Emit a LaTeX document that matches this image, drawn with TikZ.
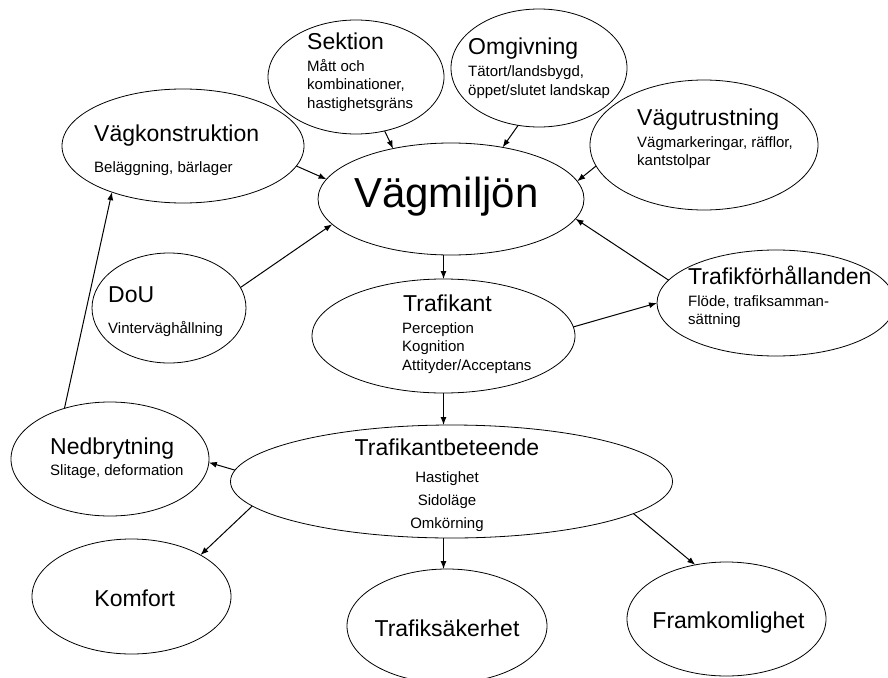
\documentclass[tikz,border=0pt]{standalone}
\usepackage{fontspec}
\setmainfont{Liberation Sans}
\usetikzlibrary{shapes.geometric,arrows.meta}
\newcommand{\mytabl}[1]{\begin{tabular}[t]{@{}l@{}}#1\end{tabular}}
\newcommand{\mytabc}[1]{\begin{tabular}[t]{@{}c@{}}#1\end{tabular}}
\begin{document}
\begin{tikzpicture}[x=1pt,y=-1pt,
  oval/.style={draw,ellipse,line width=0.8pt,inner sep=0pt,outer sep=0pt},
  arr/.style={-{Latex[length=8pt,width=6pt]},line width=1pt},
  ttl/.style={anchor=base west,inner sep=0pt,font=\fontsize{23}{27}\selectfont},
  ttlc/.style={anchor=base,inner sep=0pt,font=\fontsize{23}{27}\selectfont},
  sub/.style={anchor=base west,inner sep=0pt,font=\fontsize{15}{18.7}\selectfont},
  subc/.style={anchor=base,inner sep=0pt,font=\fontsize{15}{23}\selectfont},
]
\useasboundingbox (0,0) rectangle (888,677);
\clip (0,0) rectangle (888,677);

% ellipses
\node[oval,minimum width=266pt,minimum height=112pt] (vm) at (451,199) {};
\node[oval,minimum width=176pt,minimum height=114pt] (sek) at (356,77) {};
\node[oval,minimum width=176pt,minimum height=118pt] (omg) at (539,68) {};
\node[oval,minimum width=228pt,minimum height=130pt] (vu) at (704,145) {};
\node[oval,minimum width=242pt,minimum height=114pt] (vk) at (183,146) {};
\node[oval,minimum width=154pt,minimum height=110pt] (dou) at (169,308) {};
\node[oval,minimum width=263pt,minimum height=114pt] (tr) at (443.5,336) {};
\node[oval,minimum width=238pt,minimum height=106pt] (tf) at (776,303) {};
\node[oval,minimum width=442pt,minimum height=113pt] (tb) at (451.5,481.5) {};
\node[oval,minimum width=198pt,minimum height=114pt] (ned) at (110,459) {};
\node[oval,minimum width=199pt,minimum height=115pt] (kom) at (131.5,596.5) {};
\node[oval,minimum width=200pt,minimum height=114pt] (ts) at (447,626) {};
\node[oval,minimum width=199pt,minimum height=114pt] (fram) at (726.5,619) {};

% texts
\node[anchor=base west,inner sep=0pt,font=\fontsize{42}{48}\selectfont] (tvm) at (354,207) {Vägmiljön};
\node[ttl] (tsek) at (307,50) {Sektion};
\node[sub] (ssek) at (307,71) {\mytabl{Mått och\\kombinationer,\\hastighetsgräns}};
\node[ttl] (tomg) at (468,55) {Omgivning};
\node[sub] (somg) at (468,77) {\mytabl{Tätort/landsbygd,\\öppet/slutet landskap}};
\node[ttl] (tvu) at (637,125) {Vägutrustning};
\node[sub] (svu) at (637,147) {\mytabl{Vägmarkeringar, räfflor,\\kantstolpar}};
\node[ttl] (tvk) at (94,141) {Vägkonstruktion};
\node[sub] (svk) at (94,172) {Beläggning, bärlager};
\node[ttl] (tdou) at (108,302) {DoU};
\node[sub] (sdou) at (108,333) {Vinterväghållning};
\node[ttl] (ttr) at (403,311) {Trafikant};
\node[sub] (str) at (402,333) {\mytabl{Perception\\Kognition\\Attityder/Acceptans}};
\node[ttl] (ttf) at (688,284) {Trafikförhållanden};
\node[sub] (stf) at (688,306) {\mytabl{Flöde, trafiksamman-\\sättning}};
\node[ttlc] (ttb) at (447,455) {Trafikantbeteende};
\node[subc] (stb) at (447,482) {\mytabc{Hastighet\\Sidoläge\\Omkörning}};
\node[ttl] (tned) at (50,454) {Nedbrytning};
\node[sub] (sned) at (50,475) {Slitage, deformation};
\node[ttlc] (tkom) at (134.7,606) {Komfort};
\node[ttlc] (tts) at (447,636) {Trafiksäkerhet};
\node[ttlc] (tfram) at (728.5,628) {Framkomlighet};

% connectors
\draw[arr] (sek.-62) -- (vm.139);
\draw[arr] (omg.-110) -- (vm.45);
\draw[arr] (vu.191) -- (vm.8.6);
\draw[arr] (vk.-10) -- (vm.171);
\draw[arr] (dou.16.5) -- (vm.192.5);
\draw[arr] (tf.168.5) -- (vm.-9);
\draw[arr] (tr.north |- vm.south) -- (tr.north);
\draw[arr] (tr.4.3) -- (tf.180);
\draw[arr] (tr.south) -- (tr.south |- tb.north);
\draw[arr] (ned.132) -- (vk.213.5);
\draw[arr] (tb.177.3) -- (ned.-2.3);
\draw[arr] (tb.187.5) -- (kom.31.7);
\draw[arr] (tb.south -| tr.south) -- (ts.north -| tr.south);
\draw[arr] (tb.-10.3) -- (fram.120.4);
\end{tikzpicture}
\end{document}
